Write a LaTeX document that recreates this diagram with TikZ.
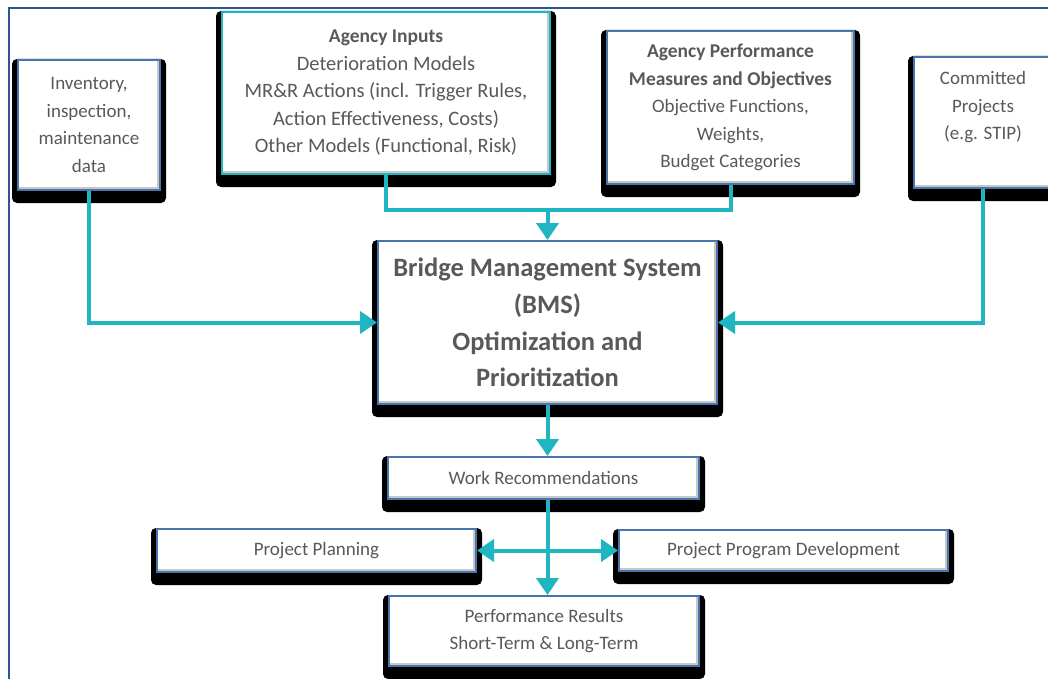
\documentclass[tikz,border=0pt]{standalone}
\usepackage{fontspec}
\setmainfont{Carlito}
\usetikzlibrary{arrows.meta,positioning,calc,backgrounds}
\definecolor{bmsteal}{HTML}{1FB6C1}
\definecolor{bmsblue}{HTML}{4A74B0}
\definecolor{bmsframe}{HTML}{2F5597}
\definecolor{bmstext}{HTML}{595959}

\begin{document}
\begin{tikzpicture}[
    x=1pt, y=-1pt,
    box/.style={rectangle, draw=bmsblue, line width=2pt, fill=white, text=bmstext,
                align=center, inner sep=0pt, font=\fontsize{19}{27.5}\selectfont,
                path picture={\draw[black!22, line width=6pt]
                    (path picture bounding box.south west) -- (path picture bounding box.south east)
                    -- (path picture bounding box.north east);}},
    flow/.style={draw=bmsteal, line width=4pt},
    flowarrow/.style={flow, -{Triangle[width=22pt,length=17pt]}},
    biarrow/.style={flow, {Triangle[width=22pt,length=17pt]}-{Triangle[width=22pt,length=17pt]}}
]
    \useasboundingbox (0,0) rectangle (1048,679);
    \clip (0,0) rectangle (1048,679);
    \draw[bmsframe, line width=1.5pt] (9,8) rectangle (1070,700);

    % Inputs to the BMS
    \node[box, minimum width=142pt, minimum height=130pt] (inv) at (89,125)
        {Inventory,\\inspection,\\maintenance\\data};
    \node[box, draw=bmsteal, minimum width=328pt, minimum height=162pt,
          font=\fontsize{20.5}{27.5}\selectfont] (inputs) at (386,93)
        {{\fontsize{19.5}{27.5}\selectfont\bfseries Agency Inputs}\\Deterioration Models\\
         MR\&R Actions (incl. Trigger Rules,\\Action Effectiveness, Costs)\\
         Other Models (Functional, Risk)};
    \node[box, minimum width=247pt, minimum height=153pt] (perf) at (730.5,107.5)
        {{\fontsize{19.5}{27.5}\selectfont\bfseries Agency Performance}\\
         {\fontsize{19.5}{27.5}\selectfont\bfseries Measures and Objectives}\\
         Objective Functions,\\Weights,\\Budget Categories};
    \node[box, minimum width=138pt, minimum height=131pt, text depth=34pt] (commit) at (983,122.5)
        {Committed\\Projects\\(e.g. STIP)};

    % BMS core
    \node[box, minimum width=339pt, minimum height=163pt,
          font=\fontsize{26.5}{36.7}\selectfont\bfseries] (bms) at (547.5,322.5)
        {Bridge Management System\\(BMS)\\Optimization and\\Prioritization};

    % Outputs
    \node[box, minimum width=311pt, minimum height=42pt] (work) at (543.5,478) {Work Recommendations};
    \node[box, minimum width=319pt, minimum height=43pt] (plan) at (316.5,550.5) {Project Planning};
    \node[box, minimum width=329pt, minimum height=41pt] (prog) at (783.5,550.5) {Project Program Development};
    \node[box, minimum width=310pt, minimum height=70pt] (results) at (544,631)
        {Performance Results\\Short-Term \& Long-Term};

    % Shadows
    \begin{pgfonlayer}{background}
        \foreach \n in {inv,inputs,perf,commit,bms,work,plan,prog,results}
            \fill[black, rounded corners=5pt] ($(\n.south west)+(-5,12)$) rectangle ($(\n.north east)+(5,0)$);
    \end{pgfonlayer}

    % Connectors
    \coordinate (merge) at (bms.north |- 0,210);
    \draw[flow] (inputs.south) |- (merge);
    \draw[flow] (perf.south) |- (merge);
    \draw[flowarrow] (merge) -- (bms.north);
    \draw[flowarrow] (inv.south) |- (bms.west);
    \draw[flowarrow] (commit.south) |- (bms.east);
    \draw[flowarrow] (bms.south) -- (bms.south |- work.north);
    \draw[flowarrow] (bms.south |- work.south) -- (bms.south |- results.north);
    \draw[biarrow] (plan.east) -- (prog.west);
\end{tikzpicture}
\end{document}
